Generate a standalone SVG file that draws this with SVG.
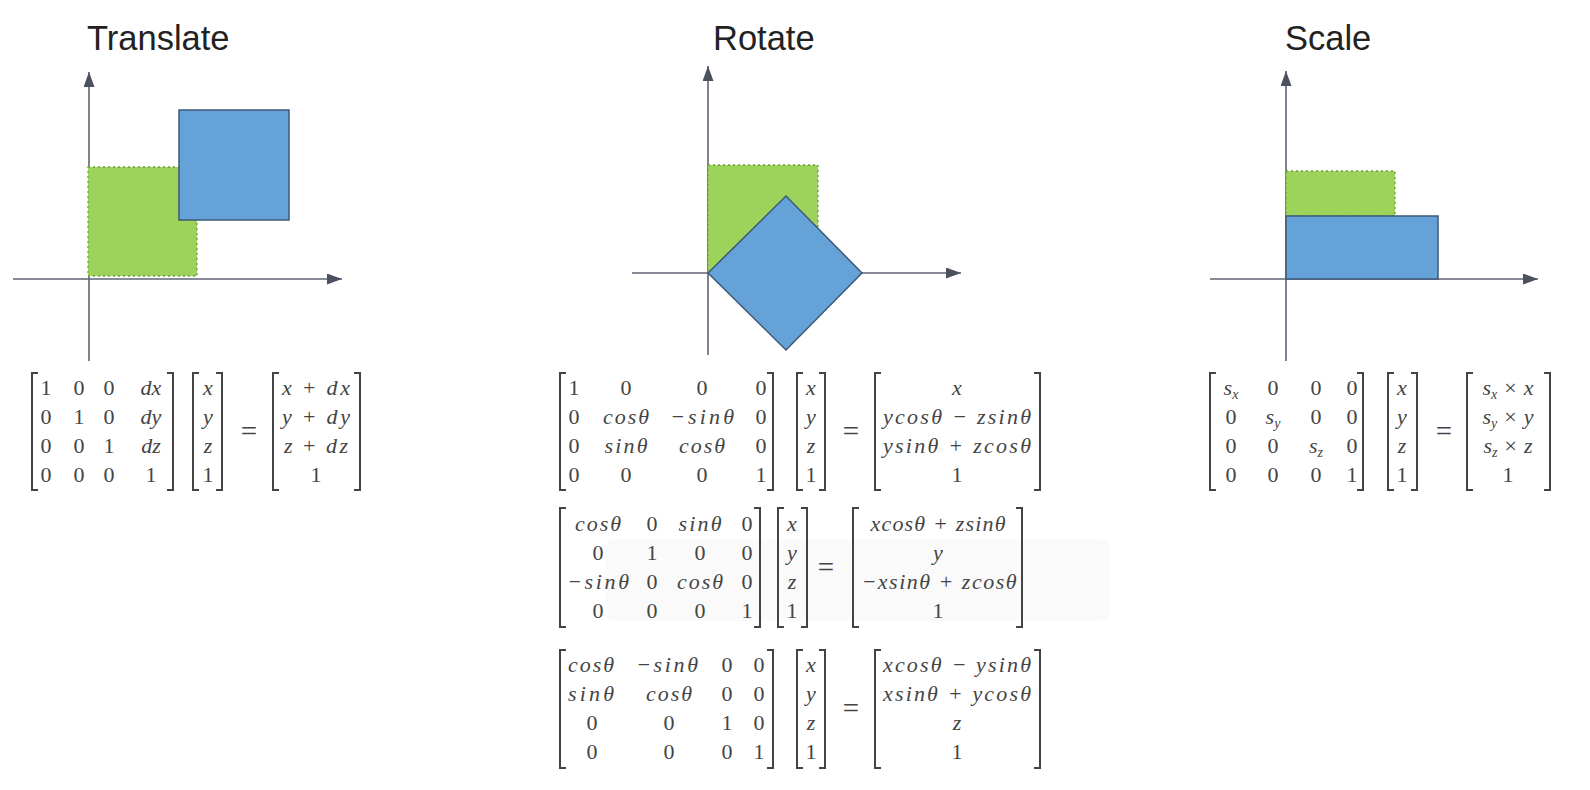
<svg xmlns="http://www.w3.org/2000/svg" width="1590" height="790" viewBox="0 0 1590 790">
<style>
.title{font-family:"Liberation Sans",Arial,sans-serif;font-size:34.5px;fill:#222}
.ax{stroke:#5f6475;stroke-width:1.6;fill:none}
.g{fill:#9dd35b;stroke:#6f9c45;stroke-width:1.3;stroke-dasharray:2 3}
.b{fill:#64a2d7;stroke:#3e5877;stroke-width:1.5}
.m text{font-family:"Liberation Serif",serif;font-size:22px;fill:#444;text-anchor:middle}
.m .i{font-style:italic}
.m .sub{font-size:14px}
.m .eq{font-size:29px}
.br{stroke:#444;stroke-width:2;fill:none}
</style>
<defs>
<marker id="ah" markerUnits="userSpaceOnUse" markerWidth="16" markerHeight="12" refX="15" refY="5.5" orient="auto">
<path d="M0,0 L15,5.5 L0,11 z" fill="#4c5160"/>
</marker>
</defs>

<rect x="605" y="539" width="505" height="82" rx="10" fill="#fafafa"/>

<g id="translate">
<text class="title" x="87" y="50">Translate</text>
<line class="ax" x1="89" y1="361" x2="89" y2="72" marker-end="url(#ah)"/>
<line class="ax" x1="13" y1="279" x2="342" y2="279" marker-end="url(#ah)"/>
<rect class="g" x="88" y="167" width="109" height="109"/>
<rect class="b" x="179" y="110" width="110" height="110"/>
</g>

<g id="rotate">
<text class="title" x="713" y="50">Rotate</text>
<line class="ax" x1="708" y1="355" x2="708" y2="66" marker-end="url(#ah)"/>
<line class="ax" x1="632" y1="273" x2="961" y2="273" marker-end="url(#ah)"/>
<rect class="g" x="708" y="165" width="110" height="108"/>
<polygon class="b" points="708,273 786,196 862,273 786,350"/>
</g>

<g id="scale">
<text class="title" x="1285" y="50">Scale</text>
<line class="ax" x1="1286" y1="361" x2="1286" y2="71" marker-end="url(#ah)"/>
<line class="ax" x1="1210" y1="279" x2="1538" y2="279" marker-end="url(#ah)"/>
<rect class="g" x="1286" y="171" width="109" height="45"/>
<rect class="b" x="1286" y="216" width="152" height="63"/>
</g>

<g id="translate-matrix">
<path class="br" d="M38,373 H32 V490 H38 M167,373 H173 V490 H167"/>
<path class="br" d="M199,373 H193 V490 H199 M216,373 H222 V490 H216"/>
<path class="br" d="M279,373 H273 V490 H279 M354,373 H360 V490 H354"/>
<g class="m">
<text x="46" y="395">1</text><text x="79" y="395">0</text><text x="109" y="395">0</text><text class="i" x="151" y="395">dx</text>
<text x="46" y="424">0</text><text x="79" y="424">1</text><text x="109" y="424">0</text><text class="i" x="151" y="424">dy</text>
<text x="46" y="453">0</text><text x="79" y="453">0</text><text x="109" y="453">1</text><text class="i" x="151" y="453">dz</text>
<text x="46" y="482">0</text><text x="79" y="482">0</text><text x="109" y="482">0</text><text x="151" y="482">1</text>
<text class="i" x="208" y="395">x</text><text class="i" x="208" y="424">y</text><text class="i" x="208" y="453">z</text><text x="208" y="482">1</text>
<text class="eq" x="249" y="441">=</text>
<text x="316" y="395" textLength="68"><tspan class="i">x</tspan> + <tspan class="i">dx</tspan></text>
<text x="316" y="424" textLength="68"><tspan class="i">y</tspan> + <tspan class="i">dy</tspan></text>
<text x="316" y="453" textLength="64"><tspan class="i">z</tspan> + <tspan class="i">dz</tspan></text>
<text x="316" y="482">1</text>
</g>
</g>

<g id="rotate-x-matrix">
<path class="br" d="M566,373 H560 V490 H566 M767,373 H773 V490 H767"/>
<path class="br" d="M803,373 H797 V490 H803 M819,373 H825 V490 H819"/>
<path class="br" d="M881,373 H875 V490 H881 M1034,373 H1040 V490 H1034"/>
<g class="m">
<text x="574" y="395">1</text><text x="626" y="395">0</text><text x="702" y="395">0</text><text x="761" y="395">0</text>
<text x="574" y="424">0</text><text class="i" x="626" y="424" textLength="46">cosθ</text><text class="i" x="702" y="424" textLength="64">−sinθ</text><text x="761" y="424">0</text>
<text x="574" y="453">0</text><text class="i" x="626" y="453" textLength="43">sinθ</text><text class="i" x="702" y="453" textLength="46">cosθ</text><text x="761" y="453">0</text>
<text x="574" y="482">0</text><text x="626" y="482">0</text><text x="702" y="482">0</text><text x="761" y="482">1</text>
<text class="i" x="811" y="395">x</text><text class="i" x="811" y="424">y</text><text class="i" x="811" y="453">z</text><text x="811" y="482">1</text>
<text class="eq" x="851" y="441">=</text>
<text class="i" x="957" y="395">x</text>
<text class="i" x="957" y="424" textLength="148">ycosθ − zsinθ</text>
<text class="i" x="957" y="453" textLength="148">ysinθ + zcosθ</text>
<text x="957" y="482">1</text>
</g>
</g>

<g id="rotate-y-matrix">
<path class="br" d="M566,508 H560 V627 H566 M754,508 H760 V627 H754"/>
<path class="br" d="M784,508 H778 V627 H784 M801,508 H807 V627 H801"/>
<path class="br" d="M859,508 H853 V627 H859 M1016,508 H1022 V627 H1016"/>
<g class="m">
<text class="i" x="598" y="531" textLength="46">cosθ</text><text x="652" y="531">0</text><text class="i" x="700" y="531" textLength="43">sinθ</text><text x="747" y="531">0</text>
<text x="598" y="560">0</text><text x="652" y="560">1</text><text x="700" y="560">0</text><text x="747" y="560">0</text>
<text class="i" x="598" y="589" textLength="62">−sinθ</text><text x="652" y="589">0</text><text class="i" x="700" y="589" textLength="46">cosθ</text><text x="747" y="589">0</text>
<text x="598" y="618">0</text><text x="652" y="618">0</text><text x="700" y="618">0</text><text x="747" y="618">1</text>
<text class="i" x="792" y="531">x</text><text class="i" x="792" y="560">y</text><text class="i" x="792" y="589">z</text><text x="792" y="618">1</text>
<text class="eq" x="826" y="577">=</text>
<text class="i" x="938" y="531" textLength="135">xcosθ + zsinθ</text>
<text class="i" x="938" y="560">y</text>
<text class="i" x="939" y="589" textLength="155">−xsinθ + zcosθ</text>
<text x="938" y="618">1</text>
</g>
</g>

<g id="rotate-z-matrix">
<path class="br" d="M566,650 H560 V768 H566 M767,650 H773 V768 H767"/>
<path class="br" d="M803,650 H797 V768 H803 M819,650 H825 V768 H819"/>
<path class="br" d="M881,650 H875 V768 H881 M1034,650 H1040 V768 H1034"/>
<g class="m">
<text class="i" x="591" y="672" textLength="46">cosθ</text><text class="i" x="667" y="672" textLength="62">−sinθ</text><text x="727" y="672">0</text><text x="759" y="672">0</text>
<text class="i" x="591" y="701" textLength="46">sinθ</text><text class="i" x="669" y="701" textLength="46">cosθ</text><text x="727" y="701">0</text><text x="759" y="701">0</text>
<text x="592" y="730">0</text><text x="669" y="730">0</text><text x="727" y="730">1</text><text x="759" y="730">0</text>
<text x="592" y="759">0</text><text x="669" y="759">0</text><text x="727" y="759">0</text><text x="759" y="759">1</text>
<text class="i" x="811" y="672">x</text><text class="i" x="811" y="701">y</text><text class="i" x="811" y="730">z</text><text x="811" y="759">1</text>
<text class="eq" x="851" y="718">=</text>
<text class="i" x="957" y="672" textLength="148">xcosθ − ysinθ</text>
<text class="i" x="957" y="701" textLength="148">xsinθ + ycosθ</text>
<text class="i" x="957" y="730">z</text>
<text x="957" y="759">1</text>
</g>
</g>

<g id="scale-matrix">
<path class="br" d="M1216,373 H1210 V490 H1216 M1357,373 H1363 V490 H1357"/>
<path class="br" d="M1394,373 H1388 V490 H1394 M1411,373 H1417 V490 H1411"/>
<path class="br" d="M1473,373 H1467 V490 H1473 M1544,373 H1550 V490 H1544"/>
<g class="m">
<text x="1231" y="395"><tspan class="i">s</tspan><tspan class="i sub" dy="4">x</tspan></text><text x="1273" y="395">0</text><text x="1316" y="395">0</text><text x="1352" y="395">0</text>
<text x="1231" y="424">0</text><text x="1273" y="424"><tspan class="i">s</tspan><tspan class="i sub" dy="4">y</tspan></text><text x="1316" y="424">0</text><text x="1352" y="424">0</text>
<text x="1231" y="453">0</text><text x="1273" y="453">0</text><text x="1316" y="453"><tspan class="i">s</tspan><tspan class="i sub" dy="4">z</tspan></text><text x="1352" y="453">0</text>
<text x="1231" y="482">0</text><text x="1273" y="482">0</text><text x="1316" y="482">0</text><text x="1352" y="482">1</text>
<text class="i" x="1402" y="395">x</text><text class="i" x="1402" y="424">y</text><text class="i" x="1402" y="453">z</text><text x="1402" y="482">1</text>
<text class="eq" x="1444" y="441">=</text>
<text x="1508" y="395"><tspan class="i">s</tspan><tspan class="i sub" dy="4">x</tspan><tspan dx="7" dy="-4">×</tspan><tspan class="i" dx="7">x</tspan></text>
<text x="1508" y="424"><tspan class="i">s</tspan><tspan class="i sub" dy="4">y</tspan><tspan dx="7" dy="-4">×</tspan><tspan class="i" dx="7">y</tspan></text>
<text x="1508" y="453"><tspan class="i">s</tspan><tspan class="i sub" dy="4">z</tspan><tspan dx="7" dy="-4">×</tspan><tspan class="i" dx="7">z</tspan></text>
<text x="1508" y="482">1</text>
</g>
</g>
</svg>
